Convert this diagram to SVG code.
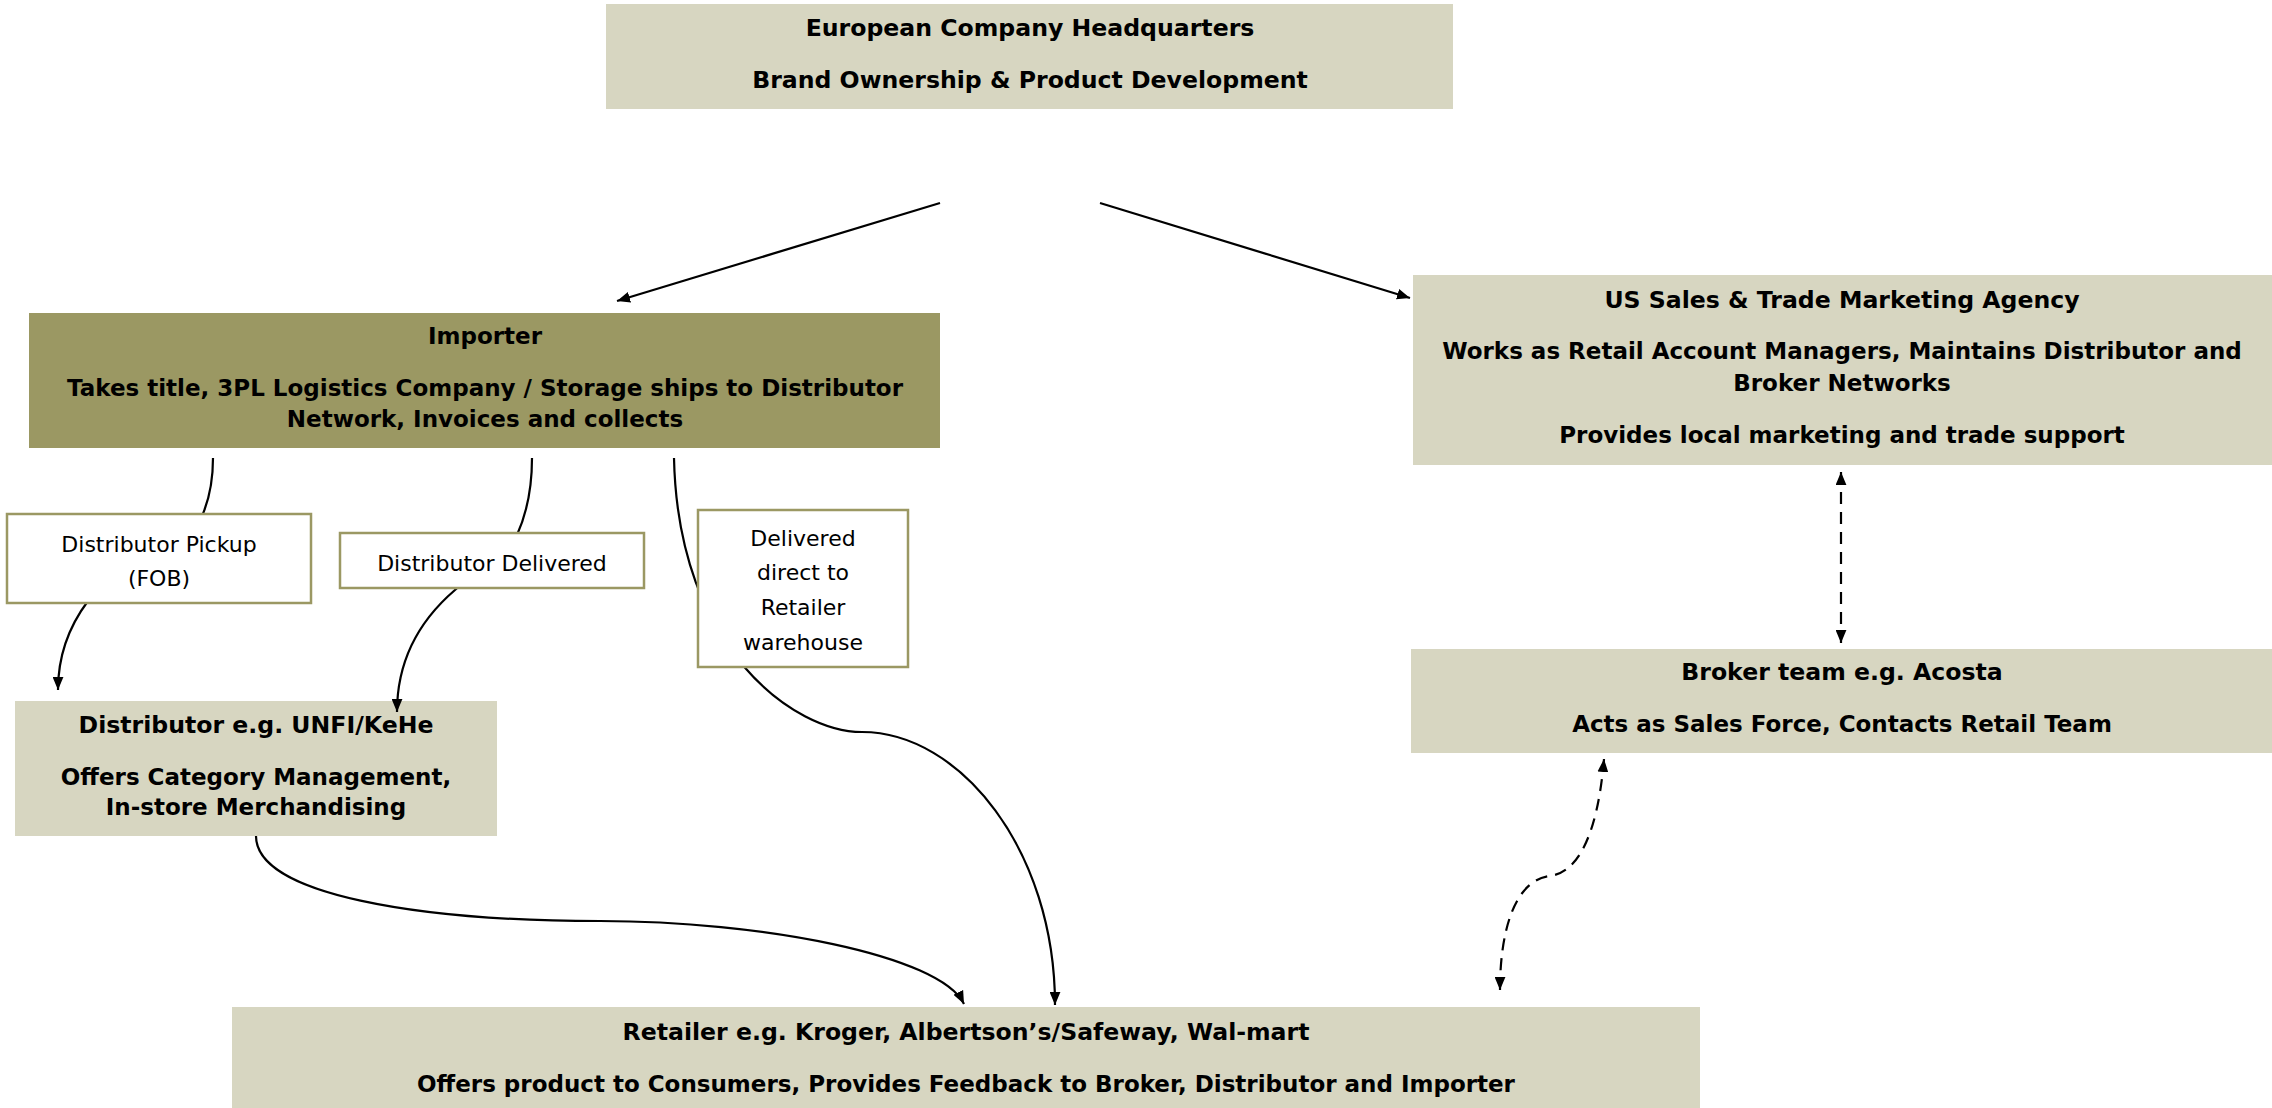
<svg xmlns="http://www.w3.org/2000/svg" width="2272" height="1108" viewBox="0 0 2272 1108">
<defs>
<marker id="arr" viewBox="0 0 12 10" refX="12" refY="5" markerWidth="13" markerHeight="11" markerUnits="userSpaceOnUse" orient="auto-start-reverse">
<path d="M0,0 L12,5 L0,10 z" fill="#000"/>
</marker>
</defs>
<style>
.box{fill:#d7d6c1;}
.imp{fill:#9b9863;}
.lbl{fill:#fff;stroke:#9b9863;stroke-width:2.5;}
.t{font-family:"DejaVu Sans",sans-serif;font-weight:bold;font-size:23px;fill:#000;text-anchor:middle;}
.h{font-size:23.6px;}
.r{font-family:"DejaVu Sans",sans-serif;font-size:22px;fill:#000;text-anchor:middle;}
.c{fill:none;stroke:#000;stroke-width:2.2;marker-end:url(#arr);}
.d{fill:none;stroke:#000;stroke-width:2.2;stroke-dasharray:12 8;marker-start:url(#arr);marker-end:url(#arr);}
</style>
<rect width="2272" height="1108" fill="#fff"/>
<g id="hq">
<rect class="box" x="606" y="4" width="847" height="105"/>
<text class="t h" x="1030" y="36">European Company Headquarters</text>
<text class="t h" x="1030" y="88">Brand Ownership &amp; Product Development</text>
</g>
<g id="importer">
<rect class="imp" x="29" y="313" width="911" height="135"/>
<text class="t" x="485" y="344">Importer</text>
<text class="t" x="485" y="396">Takes title, 3PL Logistics Company / Storage ships to Distributor</text>
<text class="t" x="485" y="427">Network, Invoices and collects</text>
</g>
<g id="us-sales">
<rect class="box" x="1413" y="275" width="859" height="190"/>
<text class="t h" x="1842" y="308">US Sales &amp; Trade Marketing Agency</text>
<text class="t" x="1842" y="359">Works as Retail Account Managers, Maintains Distributor and</text>
<text class="t" x="1842" y="391">Broker Networks</text>
<text class="t" x="1842" y="443">Provides local marketing and trade support</text>
</g>
<g id="broker">
<rect class="box" x="1411" y="649" width="861" height="104"/>
<text class="t h" x="1842" y="680">Broker team e.g. Acosta</text>
<text class="t" x="1842" y="732">Acts as Sales Force, Contacts Retail Team</text>
</g>
<g id="distributor">
<rect class="box" x="15" y="701" width="482" height="135"/>
<text class="t h" x="256" y="733">Distributor e.g. UNFI/KeHe</text>
<text class="t" x="256" y="785">Offers Category Management,</text>
<text class="t" x="256" y="815">In-store Merchandising</text>
</g>
<g id="retailer">
<rect class="box" x="232" y="1007" width="1468" height="101"/>
<text class="t h" x="966" y="1040">Retailer e.g. Kroger, Albertson’s/Safeway, Wal-mart</text>
<text class="t" x="966" y="1092">Offers product to Consumers, Provides Feedback to Broker, Distributor and Importer</text>
</g>
<g id="connectors">
<path class="c" d="M940,203 L617,301"/>
<path class="c" d="M1100,203 L1410,298"/>
<path class="c" d="M213,458 C213,482 209,500 202,516 L88,601 C70,625 58,655 58,690"/>
<path class="c" d="M532,458 C532,492 526,515 517,535 L455,590 C420,620 397,660 397,712"/>
<path class="c" d="M674,458 C678,650 795,732 862,732 C960,732 1055,850 1055,1005"/>
<path class="c" d="M256,836 C256,895 420,921 600,921 C760,921 940,955 964,1004"/>
<path class="d" d="M1841,472 L1841,643"/>
<path class="d" d="M1604,759 C1598,830 1580,872 1550,876 C1515,880 1500,930 1500,990"/>
</g>
<g id="label-pickup">
<rect class="lbl" x="7" y="514" width="304" height="89"/>
<text class="r" x="159" y="552">Distributor Pickup</text>
<text class="r" x="159" y="586">(FOB)</text>
</g>
<g id="label-delivered">
<rect class="lbl" x="340" y="533" width="304" height="55"/>
<text class="r" x="492" y="571">Distributor Delivered</text>
</g>
<g id="label-direct">
<rect class="lbl" x="698" y="510" width="210" height="157"/>
<text class="r" x="803" y="546">Delivered</text>
<text class="r" x="803" y="580">direct to</text>
<text class="r" x="803" y="615">Retailer</text>
<text class="r" x="803" y="650">warehouse</text>
</g>
</svg>
